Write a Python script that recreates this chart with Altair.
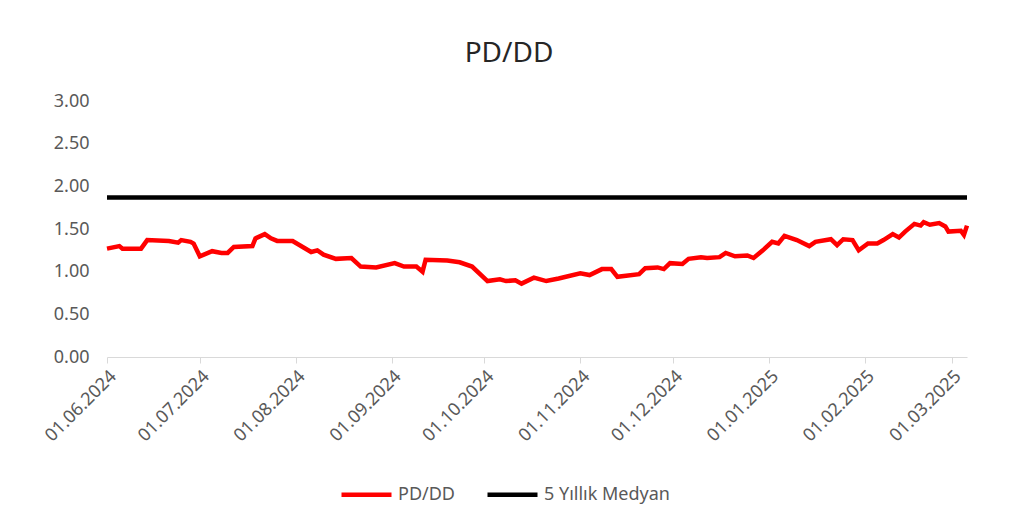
import altair as alt
import pandas as pd

# PD/DD series
pd_dates = [
    "2024-06-01", "2024-06-05", "2024-06-06", "2024-06-12", "2024-06-14", "2024-06-21",
    "2024-06-24", "2024-06-25", "2024-06-28", "2024-06-29", "2024-07-01", "2024-07-05",
    "2024-07-08", "2024-07-10", "2024-07-12", "2024-07-18", "2024-07-19", "2024-07-22",
    "2024-07-24", "2024-07-26", "2024-07-31", "2024-08-06", "2024-08-08", "2024-08-10",
    "2024-08-14", "2024-08-19", "2024-08-22", "2024-08-27", "2024-09-02", "2024-09-05",
    "2024-09-09", "2024-09-11", "2024-09-12", "2024-09-19", "2024-09-23", "2024-09-27",
    "2024-10-02", "2024-10-06", "2024-10-08", "2024-10-11", "2024-10-13", "2024-10-17",
    "2024-10-21", "2024-10-25", "2024-11-01", "2024-11-04", "2024-11-08", "2024-11-11",
    "2024-11-13", "2024-11-20", "2024-11-22", "2024-11-26", "2024-11-28", "2024-11-30",
    "2024-12-04", "2024-12-06", "2024-12-10", "2024-12-12", "2024-12-16", "2024-12-18",
    "2024-12-21", "2024-12-25", "2024-12-27", "2024-12-30", "2025-01-02", "2025-01-04",
    "2025-01-06", "2025-01-10", "2025-01-14", "2025-01-16", "2025-01-21", "2025-01-23",
    "2025-01-25", "2025-01-28", "2025-01-30", "2025-02-02", "2025-02-05", "2025-02-07",
    "2025-02-10", "2025-02-12", "2025-02-14", "2025-02-17", "2025-02-19", "2025-02-20",
    "2025-02-22", "2025-02-25", "2025-02-27", "2025-02-28", "2025-03-04", "2025-03-05",
    "2025-03-06",
]
pd_values = [
    1.27, 1.30, 1.27, 1.27, 1.37, 1.36,
    1.34, 1.37, 1.35, 1.33, 1.18, 1.24,
    1.22, 1.22, 1.29, 1.30, 1.39, 1.44,
    1.39, 1.36, 1.36, 1.23, 1.25, 1.20,
    1.15, 1.16, 1.06, 1.05, 1.10, 1.06,
    1.06, 1.00, 1.14, 1.13, 1.11, 1.06,
    0.89, 0.91, 0.89, 0.90, 0.86, 0.93,
    0.89, 0.92, 0.98, 0.96, 1.03, 1.03,
    0.94, 0.97, 1.04, 1.05, 1.03, 1.10,
    1.09, 1.15, 1.17, 1.16, 1.17, 1.22,
    1.18, 1.19, 1.16, 1.25, 1.35, 1.33,
    1.42, 1.37, 1.30, 1.35, 1.38, 1.31,
    1.38, 1.37, 1.25, 1.33, 1.33, 1.37,
    1.44, 1.40, 1.47, 1.56, 1.54, 1.58,
    1.55, 1.57, 1.53, 1.47, 1.48, 1.43,
    1.54,
]

# 5-year median (constant)
median_dates = ["2024-06-01", "2025-03-06"]
median_values = [1.87, 1.87]

series_names = ["PD/DD", "5 Yıllık Medyan"]
series_colors = ["#ff0000", "#000000"]

tick_months = [(2024, 6), (2024, 7), (2024, 8), (2024, 9), (2024, 10), (2024, 11),
               (2024, 12), (2025, 1), (2025, 2), (2025, 3)]
y_ticks = [0, 0.5, 1.0, 1.5, 2.0, 2.5, 3.0]

df = pd.concat([
    pd.DataFrame({"date": [d + "T00:00:00" for d in pd_dates], "value": pd_values, "series": series_names[0]}),
    pd.DataFrame({"date": [d + "T00:00:00" for d in median_dates], "value": median_values, "series": series_names[1]}),
])

FONT = "Noto Sans"

chart = alt.Chart(df).mark_line(strokeWidth=4.5).encode(
    x=alt.X(
        "date:T",
        title=None,
        scale=alt.Scale(domain=[alt.DateTime(year=2024, month=6, date=1),
                                alt.DateTime(year=2025, month=3, date=6)]),
        axis=alt.Axis(
            values=[alt.DateTime(year=y, month=m, date=1) for y, m in tick_months],
            format="%d.%m.%Y",
            labelAngle=-45,
            labelFont=FONT,
            labelFontSize=18,
            labelColor="#595959",
            domainColor="#d9d9d9",
            tickColor="#d9d9d9",
            tickSize=6,
            grid=False,
            labelPadding=4,
        ),
    ),
    y=alt.Y(
        "value:Q",
        title=None,
        scale=alt.Scale(domain=[0, 3]),
        axis=alt.Axis(
            values=y_ticks,
            format=".2f",
            labelFont=FONT,
            labelFontSize=18,
            labelColor="#595959",
            domain=False,
            ticks=False,
            grid=False,
            labelPadding=18,
        ),
    ),
    color=alt.Color(
        "series:N",
        scale=alt.Scale(domain=series_names, range=series_colors),
        sort=series_names,
        legend=alt.Legend(
            title=None,
            orient="none",
            direction="horizontal",
            legendX=232,
            legendY=366,
            symbolType="stroke",
            symbolSize=2500,
            symbolStrokeWidth=4.5,
            labelFont=FONT,
            labelFontSize=18,
            labelColor="#595959",
            labelOffset=4,
            columnPadding=22,
        ),
    ),
).properties(
    width=860,
    height=256,
    title=alt.TitleParams("PD/DD", font=FONT, fontSize=28, fontWeight="normal",
                          color="#262626", anchor="middle", dx=-28, offset=24),
    autosize=alt.AutoSizeParams(type="none"),
    padding={"left": 99, "top": 93, "right": 37, "bottom": 160},
).configure(background="white").configure_view(strokeWidth=0, stroke=None)

chart.save("out.html", embed_options={"renderer": "svg", "actions": False})
